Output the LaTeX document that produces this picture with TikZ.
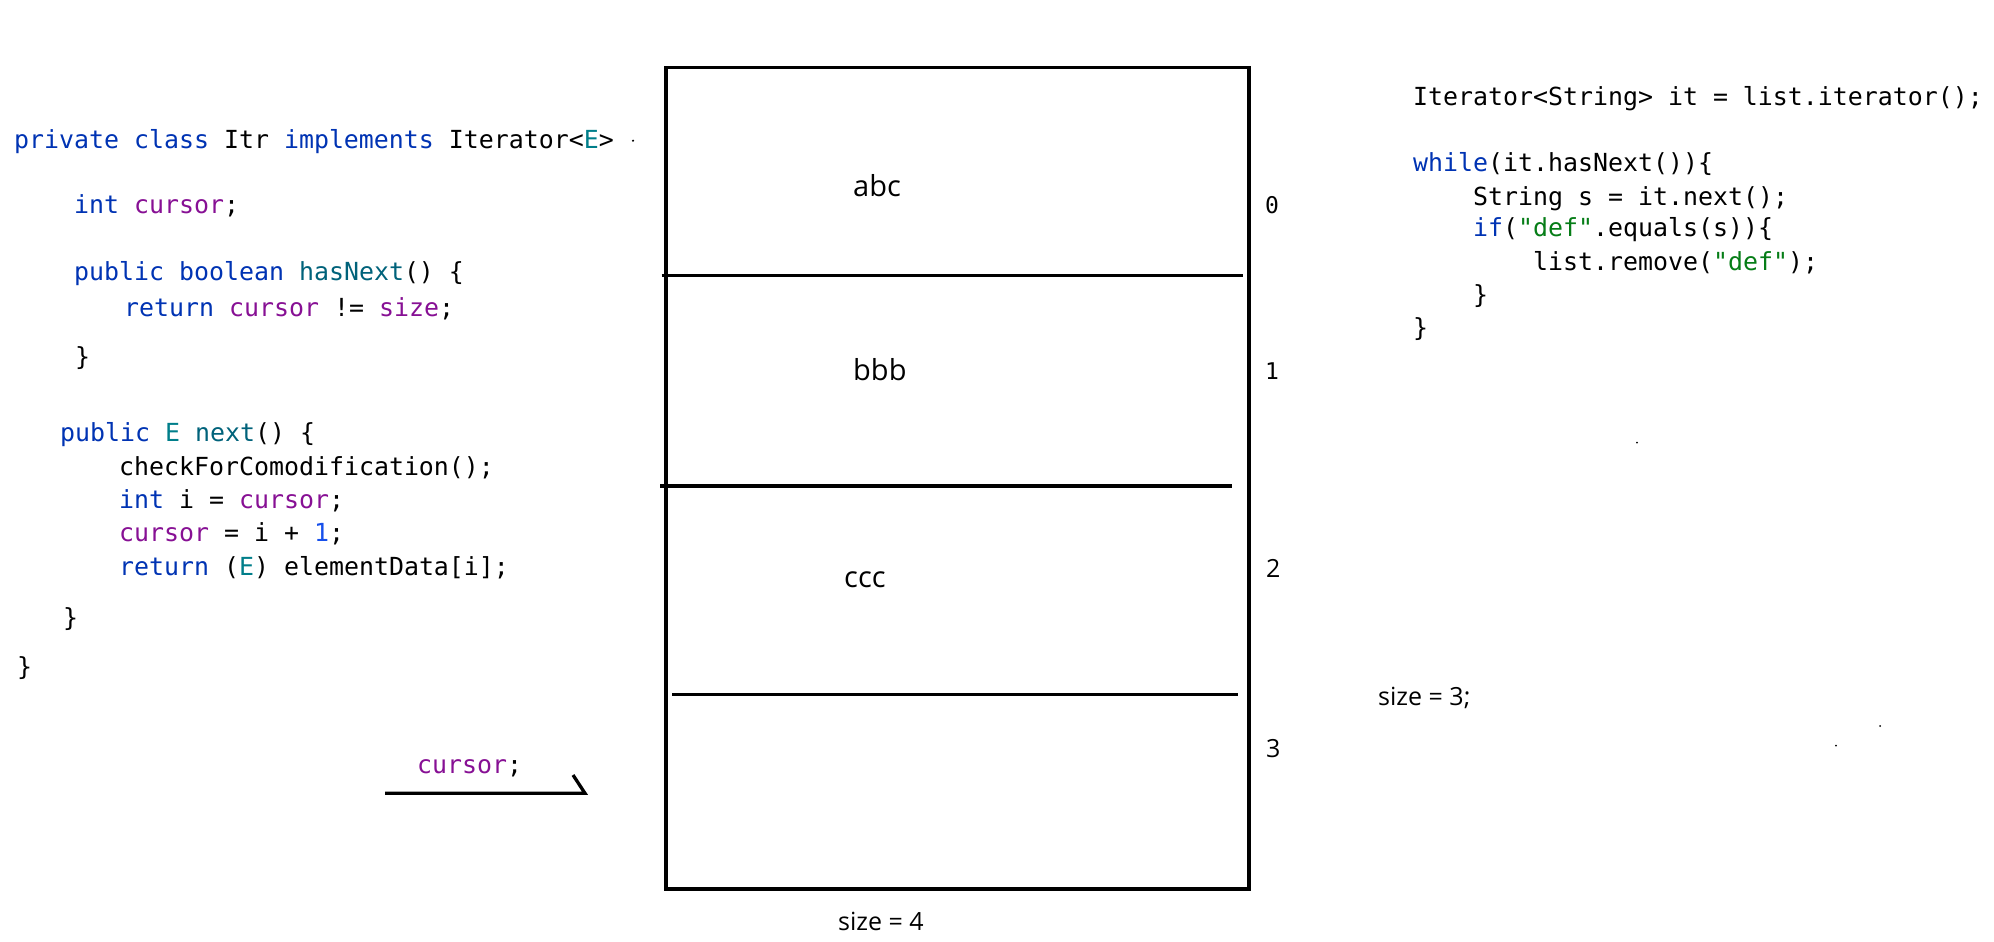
\documentclass[tikz,border=0pt]{standalone}
\usepackage{fontspec}
\setmonofont{DejaVu Sans Mono}
\setsansfont{Open Sans}
\definecolor{kwblue}{HTML}{0033B3}
\definecolor{fldc}{HTML}{871094}
\definecolor{strc}{HTML}{067D17}
\definecolor{numc}{HTML}{1750EB}
\definecolor{mthc}{HTML}{00627A}
\definecolor{tparc}{HTML}{007E8A}
\newcommand\cKw[1]{\textcolor{kwblue}{#1}}
\newcommand\cFld[1]{\textcolor{fldc}{#1}}
\newcommand\cStr[1]{\textcolor{strc}{#1}}
\newcommand\cNum[1]{\textcolor{numc}{#1}}
\newcommand\cMth[1]{\textcolor{mthc}{#1}}
\newcommand\cTp[1]{\textcolor{tparc}{#1}}
\tikzset{
  code/.style={anchor=base west, inner sep=0pt, font=\ttfamily\fontsize{24.9}{30}\selectfont},
  cell/.style={anchor=base west, inner sep=0pt, font=\sffamily\fontsize{29}{34}\selectfont},
  small/.style={anchor=base west, inner sep=0pt, font=\sffamily\fontsize{25}{29}\selectfont},
  idx/.style={anchor=base west, inner sep=0pt, font=\ttfamily\fontsize{23}{27}\selectfont},
  thick line/.style={line width=3.3pt},
  speck/.style={fill=black, draw=none}
}
\begin{document}
\begin{tikzpicture}[x=1pt, y=-1pt]
\useasboundingbox (0,0) rectangle (1994,942);
% left code
\node[code] (l1) at (14,148.3) {\cKw{private class} Itr \cKw{implements} Iterator<\cTp{E}>};
\node[code] (l2) at (74,213.3) {\cKw{int} \cFld{cursor};};
\node[code] (l3) at (74,280) {\cKw{public boolean} \cMth{hasNext}() \{};
\node[code] (l4) at (124,316.7) {\cKw{return} \cFld{cursor} != \cFld{size};};
\node[code] (l5) at (75,365) {\}};
\node[code] (l6) at (60,441.7) {\cKw{public} \cTp{E} \cMth{next}() \{};
\node[code] (l7) at (119,475) {checkForComodification();};
\node[code] (l8) at (119,508.3) {\cKw{int} i = \cFld{cursor};};
\node[code] (l9) at (119,541.7) {\cFld{cursor} = i + \cNum{1};};
\node[code] (l10) at (119,575) {\cKw{return} (\cTp{E}) elementData[i];};
\node[code] (l11) at (63,626.7) {\}};
\node[code] (l12) at (17,675) {\}};
% cursor pointer
\node[code] (cur) at (417,773.3) {\cFld{cursor};};
\coordinate (p1) at (385,793.3);
\coordinate (p2) at (585,793.3);
\coordinate (p3) at (573,775);
\draw[thick line] (p1) -- (p2) -- (p3);
% right code
\node[code] (r1) at (1413,105) {Iterator<String> it = list.iterator();};
\node[code] (r2) at (1413,171.7) {\cKw{while}(it.hasNext())\{};
\node[code] (r3) at (1473,205) {String s = it.next();};
\node[code] (r4) at (1473,236.7) {\cKw{if}(\cStr{"def"}.equals(s))\{};
\node[code] (r5) at (1533,270) {list.remove(\cStr{"def"});};
\node[code] (r6) at (1473,303) {\}};
\node[code] (r7) at (1413,336.7) {\}};
\node[small] (sz3) at (1378,705) {size = 3;};
% array box
\draw[thick line] (666,67.3) rectangle (1249,889);
\draw[thick line] (661.7,275.3) -- (1242.8,275.3);
\draw[thick line] (660,486) -- (1232,486);
\draw[thick line] (672,694.3) -- (1238.4,694.3);
\node[cell] (abc) at (853,196.7) {abc};
\node[cell] (bbb) at (853,380.7) {bbb};
\node[cell] (ccc) at (844,587.3) {ccc};
\node[small] (sz4) at (838,930) {size = 4};
\node[idx] (i0) at (1265,213) {0};
\node[idx] (i1) at (1265,379.3) {1};
\node[small] (i2) at (1266,577.3) {2};
\node[small] (i3) at (1266,757.7) {3};
% stray specks
\fill[speck] (633,140.7) circle (1.2);
\fill[speck] (1637,442.7) circle (1);
\fill[speck] (1880,726) circle (1);
\fill[speck] (1836,745.7) circle (1);
\end{tikzpicture}
\end{document}
